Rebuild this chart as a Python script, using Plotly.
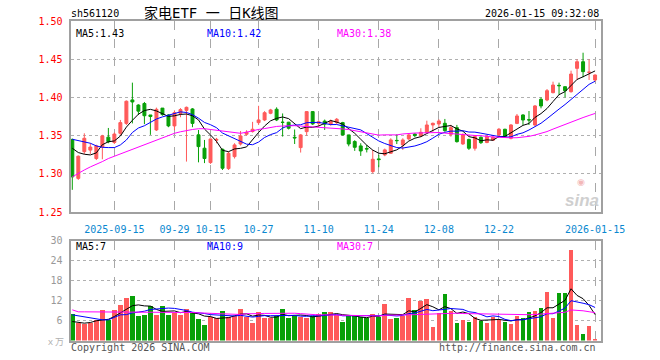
import plotly.graph_objects as go

# ---------------- data ----------------
dates = ["2025-09-04","2025-09-05","2025-09-08","2025-09-09","2025-09-10","2025-09-11","2025-09-12",
         "2025-09-15","2025-09-16","2025-09-17","2025-09-18","2025-09-19","2025-09-22","2025-09-23",
         "2025-09-24","2025-09-25","2025-09-26","2025-09-29","2025-09-30","2025-10-09","2025-10-10",
         "2025-10-13","2025-10-14","2025-10-15","2025-10-16","2025-10-17","2025-10-20","2025-10-21",
         "2025-10-22","2025-10-23","2025-10-24","2025-10-27","2025-10-28","2025-10-29","2025-10-30",
         "2025-10-31","2025-11-03","2025-11-04","2025-11-05","2025-11-06","2025-11-07","2025-11-10",
         "2025-11-11","2025-11-12","2025-11-13","2025-11-14","2025-11-17","2025-11-18","2025-11-19",
         "2025-11-20","2025-11-21","2025-11-24","2025-11-25","2025-11-26","2025-11-27","2025-11-28",
         "2025-12-01","2025-12-02","2025-12-03","2025-12-04","2025-12-05","2025-12-08","2025-12-09",
         "2025-12-10","2025-12-11","2025-12-12","2025-12-15","2025-12-16","2025-12-17","2025-12-18",
         "2025-12-19","2025-12-22","2025-12-23","2025-12-24","2025-12-25","2025-12-26","2025-12-29",
         "2025-12-30","2025-12-31","2026-01-05","2026-01-06","2026-01-07","2026-01-08","2026-01-09",
         "2026-01-12","2026-01-13","2026-01-14","2026-01-15"]

open_ = [1.345,1.294,1.329,1.331,1.320,1.335,1.348,1.341,1.353,1.366,
         1.3967,1.390,1.392,1.377,1.3574,1.386,1.377,1.3627,1.379,1.383,
         1.3849,1.351,1.3335,1.3147,1.344,1.3321,1.3068,1.3225,1.339,1.3518,
         1.3553,1.367,1.3705,1.3792,1.3845,1.3675,1.3675,1.3478,1.3343,1.3552,
         1.3814,1.366,1.369,1.365,1.367,1.367,1.3509,1.3422,1.3365,1.3330,
         1.3029,1.3195,1.3247,1.3269,1.3437,1.3378,1.3457,1.352,1.3495,1.3539,
         1.3639,1.3652,1.3661,1.3517,1.3604,1.3391,1.345,1.3334,1.3478,1.341,
         1.344,1.3509,1.3583,1.3465,1.366,1.3770,1.3709,1.3639,1.3975,1.3966,
         1.4062,1.4158,1.4140,1.4075,1.438,1.4467,1.4328,1.4228]
high = [1.346,1.324,1.353,1.340,1.338,1.351,1.360,1.354,1.3705,1.396,
        1.4193,1.391,1.394,1.377,1.3866,1.386,1.378,1.383,1.386,1.388,
        1.386,1.3574,1.3443,1.346,1.347,1.333,1.329,1.340,1.356,1.357,
        1.368,1.389,1.382,1.385,1.387,1.379,1.368,1.358,1.352,1.382,
        1.382,1.370,1.371,1.371,1.373,1.368,1.351,1.344,1.340,1.3378,
        1.3313,1.325,1.333,1.3465,1.3517,1.3465,1.353,1.353,1.3596,1.3695,
        1.367,1.3713,1.3718,1.364,1.364,1.353,1.346,1.350,1.349,1.351,
        1.350,1.360,1.359,1.365,1.3783,1.378,1.3822,1.390,1.400,1.411,
        1.4206,1.4193,1.4145,1.4350,1.4498,1.4585,1.4498,1.430]
low = [1.279,1.292,1.326,1.326,1.318,1.319,1.340,1.339,1.351,1.364,
       1.366,1.377,1.365,1.351,1.356,1.376,1.361,1.357,1.374,1.316,
       1.361,1.315,1.314,1.313,1.340,1.305,1.305,1.320,1.337,1.350,
       1.354,1.364,1.369,1.378,1.369,1.3487,1.358,1.339,1.3278,1.350,
       1.364,1.362,1.3574,1.363,1.365,1.350,1.336,1.330,1.3234,1.328,
       1.3007,1.3086,1.323,1.326,1.339,1.3313,1.344,1.348,1.348,1.353,
       1.355,1.3609,1.355,1.3486,1.3408,1.3378,1.3312,1.3303,1.339,1.340,
       1.343,1.349,1.347,1.345,1.365,1.3639,1.3639,1.362,1.3857,1.395,
       1.4053,1.4031,1.400,1.4062,1.4228,1.4263,1.4228,1.421]
close = [1.296,1.323,1.3465,1.335,1.3365,1.3496,1.342,1.352,1.367,1.395,
         1.394,1.382,1.376,1.375,1.3844,1.3775,1.3627,1.380,1.384,1.387,
         1.366,1.3356,1.320,1.3456,1.345,1.3073,1.3269,1.3378,1.3496,1.3544,
         1.3583,1.3705,1.380,1.3836,1.3705,1.3673,1.3596,1.347,1.3509,1.3814,
         1.3653,1.368,1.365,1.369,1.3714,1.3509,1.339,1.3347,1.3299,1.3325,
         1.3190,1.3186,1.3313,1.3443,1.3434,1.3443,1.3509,1.350,1.3543,1.3639,
         1.3661,1.3691,1.3565,1.3604,1.3421,1.3508,1.3334,1.3487,1.3408,1.3487,
         1.3478,1.3583,1.3487,1.3639,1.3757,1.3704,1.3704,1.3888,1.3888,1.4088,
         1.4162,1.4153,1.4088,1.4306,1.4467,1.4337,1.4330,1.4293]
volume = [8.0,5.2,5.0,5.2,6.2,9.2,6.2,9.2,10.7,12.7,
          13.4,7.4,7.7,10.4,7.7,10.4,7.7,8.2,7.7,9.5,
          8.2,6.5,4.7,7.0,6.7,8.9,7.0,7.4,9.5,7.2,
          5.4,8.7,6.9,6.7,7.4,9.5,6.7,7.4,7.2,6.7,
          7.4,7.9,8.7,8.7,7.7,5.7,7.4,7.4,7.0,6.7,
          8.0,7.0,11.0,6.5,6.9,7.4,12.8,9.2,11.9,12.5,
          4.2,8.2,14.0,8.9,5.4,6.2,5.7,7.0,6.0,5.4,
          7.0,6.2,5.7,5.0,7.4,6.9,8.7,8.9,9.9,14.7,
          6.9,14.4,14.4,27.2,4.7,2.0,4.4,0.5]

# moving-average values before the window is full
ma5_head = [1.3334,1.3278,1.3256,1.3247]
ma10_head = [1.3452,1.3435,1.3422,1.340,1.3365,1.3347,1.3343,1.3343,1.3378]
ma30_head = [1.296,1.301,1.305,1.309,1.312,1.316,1.320,1.323,1.326,1.330,
             1.333,1.336,1.339,1.342,1.345,1.348,1.351,1.353,1.355,1.357,
             1.358,1.359,1.359,1.358,1.357,1.356,1.355,1.354,1.353]
vma5_head = [5.7,5.5,5.2,5.4]
vma10_head = [7.7,7.4,7.0,6.7,6.4,6.2,6.2,7.0,7.7]
vma30_head = [9.2,8.6,8.6,8.6,8.6,8.6,8.6,8.6,8.6,8.6,
              8.6,8.6,8.6,8.6,8.6,8.5,8.5,8.5,8.5,8.5,
              8.4,8.3,8.2,8.1,8.0,8.0,7.9,7.9,7.8]

# legend texts as printed on the reference
price_ma_labels = ["MA5:1.43", "MA10:1.42", "MA30:1.38"]
vol_ma_labels = ["MA5:7", "MA10:9", "MA30:7"]

tick_labels = ["2025-09-15","09-29","10-15","10-27","11-10","11-24","12-08","12-22","2026-01-15"]
tick_dates = ["2025-09-15","2025-09-29","2025-10-15","2025-10-27","2025-11-10","2025-11-24",
              "2025-12-08","2025-12-22","2026-01-15"]
price_ticks = [1.25,1.30,1.35,1.40,1.45,1.50]
vol_ticks = [6,12,18,24,30]

# ---------------- derived ----------------
def moving(values, n, head):
    out = list(head)
    for i in range(len(head), len(values)):
        out.append(sum(values[i - n + 1:i + 1]) / n)
    return out

idx = list(range(len(dates)))
ma5 = moving(close, 5, ma5_head)
ma10 = moving(close, 10, ma10_head)
ma30 = moving(close, 30, ma30_head)
vma5 = moving(volume, 5, vma5_head)
vma10 = moving(volume, 10, vma10_head)
vma30 = moving(volume, 30, vma30_head)
tick_idx = [dates.index(d) for d in tick_dates]

RED = "#ff5a5a"
GREEN = "#08a008"
vol_colors = [RED if c >= o else GREEN for o, c in zip(open_, close)]

MONO = "DejaVu Sans Mono, Liberation Mono, monospace"

fig = go.Figure()
fig.add_trace(go.Candlestick(
    x=idx, open=open_, high=high, low=low, close=close,
    increasing=dict(line=dict(color=RED, width=1), fillcolor=RED),
    decreasing=dict(line=dict(color=GREEN, width=1), fillcolor=GREEN),
    whiskerwidth=0, xaxis="x", yaxis="y", showlegend=False, hoverinfo="skip"))
for ys, col in [(ma5, "#000000"), (ma10, "#0000ff"), (ma30, "#ff00ff")]:
    fig.add_trace(go.Scatter(x=idx, y=ys, mode="lines", line=dict(color=col, width=1),
                             xaxis="x", yaxis="y", showlegend=False, hoverinfo="skip"))

fig.add_trace(go.Bar(x=idx, y=volume, marker=dict(color=vol_colors, line=dict(width=0)),
                     width=0.78, xaxis="x2", yaxis="y2", showlegend=False, hoverinfo="skip"))
for ys, col in [(vma5, "#000000"), (vma10, "#0000ff"), (vma30, "#ff00ff")]:
    fig.add_trace(go.Scatter(x=idx, y=ys, mode="lines", line=dict(color=col, width=1),
                             xaxis="x2", yaxis="y2", showlegend=False, hoverinfo="skip"))

xdom = [70.5 / 660, 600.5 / 660]
xr = [-0.3, len(dates) - 1 + 0.9]
common_x = dict(domain=xdom, range=xr, showline=True, mirror=True, linecolor="#a0a0a0",
                linewidth=2, showgrid=True, gridcolor="#a8a8a8", griddash="dash", gridwidth=1,
                tickvals=tick_idx, zeroline=False, ticks="", fixedrange=True,
                tickangle=0, automargin=False, ticklabelstandoff=7)
common_y = dict(showline=True, mirror=True, linecolor="#a0a0a0", linewidth=2,
                showgrid=True, gridcolor="#b0b0b0", griddash="dot", zeroline=False, ticks="",
                automargin=False, ticklabelstandoff=4, fixedrange=True)

fig.update_layout(
    width=660, height=360, margin=dict(l=0, r=0, t=0, b=0, autoexpand=False),
    paper_bgcolor="white", plot_bgcolor="white",
    font=dict(family=MONO, size=10),
    xaxis=dict(**common_x, ticktext=tick_labels, anchor="y", rangeslider=dict(visible=False),
               tickfont=dict(color="#0a88d0", size=10, family=MONO)),
    yaxis=dict(**common_y, domain=[1 - 212 / 360, 1 - 21 / 360], range=[1.25, 1.50],
               tickvals=price_ticks, tickformat=".2f",
               tickfont=dict(color="#ff0000", size=10, family=MONO), anchor="x"),
    xaxis2=dict(**common_x, ticktext=[""] * len(tick_idx), anchor="y2", showticklabels=False),
    yaxis2=dict(**common_y, domain=[1 - 340.5 / 360, 1 - 240.5 / 360], range=[0, 30],
                tickvals=vol_ticks,
                tickfont=dict(color="#999999", size=10, family=MONO), anchor="x2"),
    bargap=0,
)

def txt(x, y, s, color="#000000", size=10, anchor="left", family=MONO, **kw):
    fig.add_annotation(x=x, y=y, xref="paper", yref="paper", text=s, showarrow=False,
                       xanchor=anchor, yanchor="middle",
                       font=dict(color=color, size=size, family=family), **kw)

H = 360.0
W = 660.0
txt(69 / W, 1 - 14 / H, "sh561120")
txt(211 / W, 1 - 13 / H, "家电ETF 一 日K线图", size=14, anchor="center",
    family="DejaVu Sans Mono, Noto Sans CJK SC")
txt(601 / W, 1 - 14 / H, "2026-01-15 09:32:08", anchor="right")
txt(74 / W, 1 - 33 / H, price_ma_labels[0])
txt(205 / W, 1 - 33 / H, price_ma_labels[1], color="#0000ff")
txt(335 / W, 1 - 33 / H, price_ma_labels[2], color="#ff00ff")
txt(74 / W, 1 - 246 / H, vol_ma_labels[0])
txt(205 / W, 1 - 246 / H, vol_ma_labels[1], color="#0000ff")
txt(335 / W, 1 - 246 / H, vol_ma_labels[2], color="#ff00ff")
txt(66 / W, 1 - 341 / H, "ｘ万", color="#b0b0b0", size=9, anchor="right",
    family="Noto Sans CJK SC")
txt(69 / W, 1 - 347 / H, "Copyright 2026 SINA.COM", color="#555555")
txt(598 / W, 1 - 347 / H, "http://finance.sina.com.cn", color="#555555", anchor="right")
txt(582 / W, 1 - 200 / H, "<b><i>sina</i></b>", color="#cfcfcf", size=17, anchor="center",
    family="Arial, Liberation Sans")
txt(581 / W, 1 - 182 / H, "◉", color="#f3b8b8", size=9, anchor="center",
    family="DejaVu Sans")

fig.write_html("out.html", config={"displayModeBar": False, "staticPlot": True},
               post_script="document.body.style.margin='0';document.body.style.padding='0';")
